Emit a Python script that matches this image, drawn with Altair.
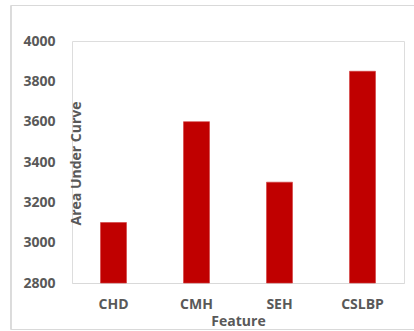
import altair as alt
import pandas as pd

features = ["CHD", "CMH", "SEH", "CSLBP"]
auc_values = [3100, 3600, 3300, 3850]
y_ticks = [2800, 3000, 3200, 3400, 3600, 3800, 4000]

df = pd.DataFrame({"Feature": features, "AUC": auc_values})

FONT = "Open Sans"
GREY = "#595959"

bars = alt.Chart(df).mark_bar(color="#c00000", stroke="#d23a3a", strokeWidth=0.6).encode(
    x=alt.X(
        "Feature:N",
        sort=features,
        scale=alt.Scale(paddingInner=0.687, paddingOuter=0.3435),
        axis=alt.Axis(
            title="Feature",
            labelAngle=0,
            labelFont=FONT,
            labelFontSize=14,
            labelFontWeight="bold",
            labelColor=GREY,
            labelPadding=14,
            ticks=False,
            domainColor="#d9d9d9",
            domainWidth=1,
            titleFont=FONT,
            titleFontSize=14,
            titleFontWeight="bold",
            titleColor=GREY,
            titleBaseline="alphabetic",
            titleY=42,
        ),
    ),
    y=alt.Y(
        "AUC:Q",
        scale=alt.Scale(domain=[2800, 4000], zero=False, nice=False),
        axis=alt.Axis(
            title="Area Under Curve",
            values=y_ticks,
            format="d",
            labelFont=FONT,
            labelFontSize=14,
            labelFontWeight="bold",
            labelColor=GREY,
            labelPadding=17,
            ticks=False,
            domain=False,
            grid=False,
            titleFont=FONT,
            titleFontSize=14,
            titleFontWeight="bold",
            titleColor=GREY,
            titleAngle=-90,
            titleAlign="center",
            titleBaseline="alphabetic",
            titleX=8,
            titleY=122,
        ),
    ),
    y2=alt.datum(2800),
)

frame = alt.Chart(df).mark_rect(
    fill=None, filled=False, stroke="#d9d9d9", strokeWidth=1, clip=False
).encode(
    x=alt.value(-61),
    x2=alt.value(360),
    y=alt.value(-35.5),
    y2=alt.value(288.5),
)

chart = alt.layer(frame, bars).properties(
    width=332,
    height=242,
    autosize=alt.AutoSizeParams(type="none"),
    padding={"left": 72, "top": 41, "right": 10, "bottom": 48},
).configure_view(stroke=None).configure(background="white")

chart.save("out.html", embed_options={"renderer": "svg", "actions": False})
